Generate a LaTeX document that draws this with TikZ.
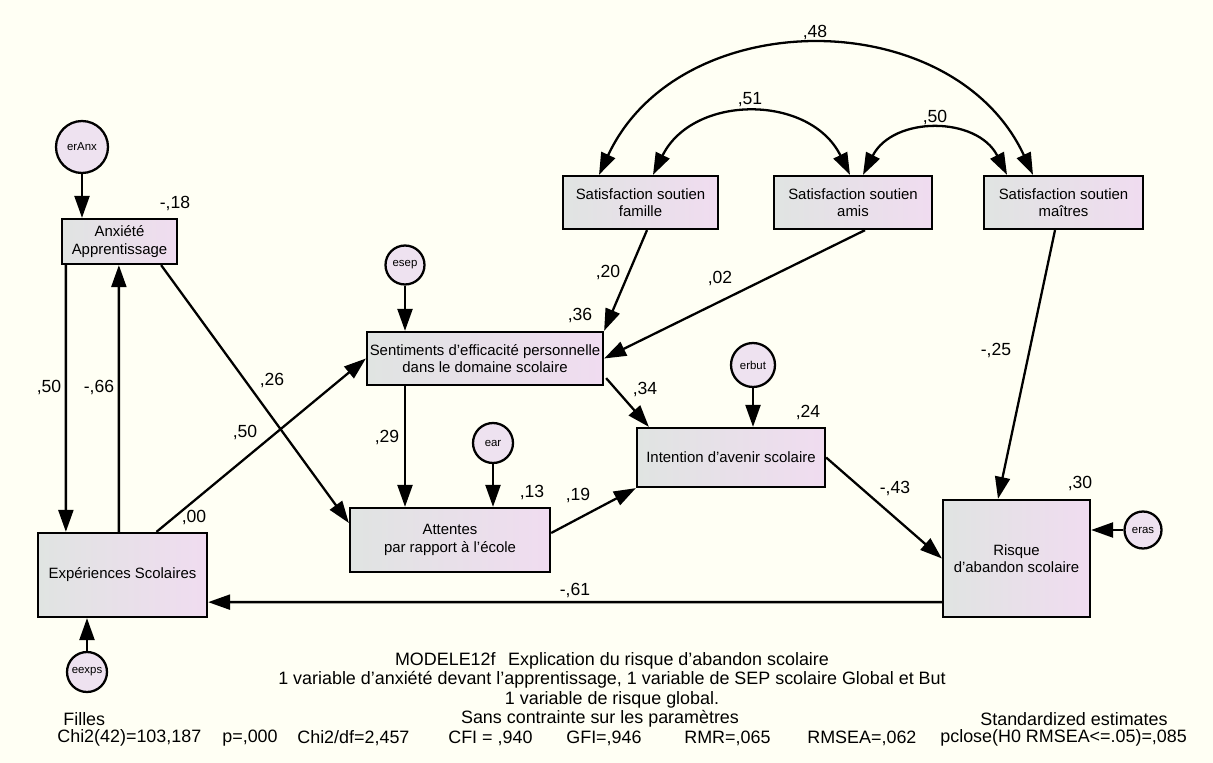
\documentclass[tikz,border=0pt]{standalone}
\usepackage{fontspec}
\setmainfont{Liberation Sans}
\usetikzlibrary{arrows.meta,calc}
\definecolor{paper}{RGB}{255,255,244}
\definecolor{boxGray}{RGB}{224,228,226}
\definecolor{boxPink}{RGB}{240,220,240}
\definecolor{errFill}{RGB}{238,226,240}
\newcommand{\boxFont}{\fontsize{8.5}{10}\selectfont}
\newcommand{\coefFont}{\fontsize{10}{12}\selectfont}
\newcommand{\noteFont}{\fontsize{10.2}{12}\selectfont}

\begin{document}
\begin{tikzpicture}[x=0.02cm, y=-0.02cm]
  \tikzset{
    obs/.style={draw, line width=1.3pt, left color=boxGray, right color=boxPink,
      align=center, inner sep=1pt, font=\boxFont},
    err/.style={draw, circle, line width=1.3pt, fill=errFill, inner sep=0pt,
      font=\fontsize{6.5}{7}\selectfont},
    coef/.style={font=\coefFont, inner sep=1pt},
    reg/.style={line width=1.3pt, -{Triangle[length=0.44cm, width=0.30cm]}},
    cov/.style={line width=1.3pt,
      {Triangle[length=0.44cm, width=0.30cm]}-{Triangle[length=0.44cm, width=0.30cm]}},
    note/.style={font=\noteFont, inner sep=0pt}
  }
  \fill[paper] (0,0) rectangle (1213,763);
  \useasboundingbox (0,0) rectangle (1213,763);

  % variables
  \node[obs, minimum width=2.30cm, minimum height=0.90cm] (anx) at (119.5,241.5) {Anxiété\\Apprentissage};
  \node[obs, minimum width=3.38cm, minimum height=1.68cm] (exp) at (122.5,575) {Expériences Scolaires};
  \node[obs, minimum width=4.72cm, minimum height=1.06cm, inner xsep=0pt] (sep) at (485,358.5) {Sentiments d'efficacité personnelle\\dans le domaine scolaire};
  \node[obs, minimum width=4.00cm, minimum height=1.28cm] (att) at (450,540) {Attentes\\par rapport à l'école};
  \node[obs, minimum width=3.76cm, minimum height=1.18cm] (int) at (731,457.5) {Intention d'avenir scolaire};
  \node[obs, minimum width=2.94cm, minimum height=2.34cm] (ris) at (1016.5,558.5) {Risque\\d'abandon scolaire};
  \node[obs, minimum width=3.10cm, minimum height=1.06cm] (fam) at (640.5,202.5) {Satisfaction soutien\\famille};
  \node[obs, minimum width=3.16cm, minimum height=1.06cm] (ami) at (853,202.5) {Satisfaction soutien\\amis};
  \node[obs, minimum width=3.18cm, minimum height=1.06cm] (mai) at (1063.5,202.5) {Satisfaction soutien\\maîtres};

  % erreurs
  \node[err, minimum size=1.04cm] (eranx) at (82,147) {erAnx};
  \node[err, minimum size=0.78cm] (esep) at (405,265) {\makebox[0pt]{esep}};
  \node[err, minimum size=0.80cm] (ear) at (493,443) {ear};
  \node[err, minimum size=0.88cm] (erbut) at (753,365) {erbut};
  \node[err, minimum size=0.74cm] (eras) at (1143,530) {\makebox[0pt]{eras}};
  \node[err, minimum size=0.80cm] (eexps) at (87,672) {\makebox[0pt]{eexps}};

  \draw[reg] (eranx) -- (eranx |- anx.north);
  \draw[reg] (esep) -- (esep |- sep.north);
  \draw[reg] (ear) -- (ear |- att.north);
  \draw[reg] (erbut) -- (erbut |- int.north);
  \draw[reg] (eras) -- (eras -| ris.east);
  \draw[reg] (eexps) -- (eexps |- exp.south);

  % effets
  \draw[reg] ($(anx.south west)+(5,0)$) -- ($(exp.north west)+(29,0)$);
  \draw[reg] ($(exp.north west)+(82,0)$) -- ($(anx.south west)+(58,0)$);
  \draw[reg] ($(anx.south east)+(-17,0)$) -- ($(att.west)+(0,-17)$);
  \draw[reg] ($(exp.north)+(34,0)$) -- (sep.west);
  \draw[reg] (esep |- sep.south) -- (esep |- att.north);
  \draw[reg] ($(fam.south)+(6.5,0)$) -- (sep.north east);
  \draw[reg] ($(ami.south)+(12,0)$) -- (sep.east);
  \draw[reg] ($(sep.south east)+(2,-8)$) -- ($(int.north west)+(13,0)$);
  \draw[reg] ($(att.east)+(0,-7)$) -- (int.south west);
  \draw[reg] (int.east) -- (ris.west);
  \draw[reg] ($(mai.south)+(-8.5,0)$) -- ($(ris.north)+(-18.5,0)$);
  \draw[reg] ($(ris.south west)+(0,-16)$) -- ($(exp.south east)+(0,-16)$);

  % covariances
  \draw[cov] ($(fam.north)+(-41.5,0)$) .. controls +(80,-172) and +(-80,-172) .. ($(mai.north)+(-30.5,0)$);
  \draw[cov] ($(fam.north)+(12.5,0)$) .. controls +(40,-81) and +(-40,-81) .. ($(ami.north)+(-3,0)$);
  \draw[cov] ($(ami.north)+(10,0)$) .. controls +(30,-59) and +(-30,-59) .. ($(mai.north)+(-56.5,0)$);

  % coefficients
  \node[coef] (r2-anx) at (175,203) {-,18};
  \node[coef] (r2-sep) at (580,315) {,36};
  \node[coef] (r2-int) at (808,412) {,24};
  \node[coef] (r2-att) at (532,492) {,13};
  \node[coef] (r2-ris) at (1080,483) {,30};
  \node[coef] (r2-exp) at (194,517) {,00};
  \node[coef] (b-anx-exp) at (49,387) {,50};
  \node[coef] (b-exp-anx) at (99,387) {-,66};
  \node[coef] (b-anx-att) at (272,380) {,26};
  \node[coef] (b-exp-sep) at (245,432) {,50};
  \node[coef] (b-sep-att) at (387,437) {,29};
  \node[coef] (b-fam-sep) at (608,272) {,20};
  \node[coef] (b-ami-sep) at (720,278) {,02};
  \node[coef] (b-sep-int) at (645,389) {,34};
  \node[coef] (b-att-int) at (578,495) {,19};
  \node[coef] (b-int-ris) at (895,488) {-,43};
  \node[coef] (b-mai-ris) at (996,350) {-,25};
  \node[coef] (b-ris-exp) at (575,590) {-,61};
  \node[coef] (c-fam-mai) at (815,32) {,48};
  \node[coef] (c-fam-ami) at (750,100) {,51};
  \node[coef] (c-ami-mai) at (935,117) {,50};

  % texte du modele
  \node[note] (title) at (612,661) {MODELE12f\hspace{0.7em}Explication du risque d'abandon scolaire};
  \node[note] (desc-1) at (612,680) {1 variable d'anxiété devant l'apprentissage, 1 variable de SEP scolaire Global et But};
  \node[note] (desc-2) at (612,700) {1 variable de risque global.};
  \node[note, anchor=west] (group) at (63,719) {Filles};
  \node[note] (constr) at (600,719) {Sans contrainte sur les paramètres};
  \node[note, anchor=west] (estim) at (980,719) {Standardized estimates};
  \node[note, anchor=west] (fit-chi) at (57,738) {Chi2(42)=103,187};
  \node[note, anchor=west] (fit-p) at (222,738) {p=,000};
  \node[note, anchor=west] (fit-df) at (297,738) {Chi2/df=2,457};
  \node[note, anchor=west] (fit-cfi) at (448,738) {CFI = ,940};
  \node[note, anchor=west] (fit-gfi) at (566,738) {GFI=,946};
  \node[note, anchor=west] (fit-rmr) at (684,738) {RMR=,065};
  \node[note, anchor=west] (fit-rmsea) at (807,738) {RMSEA=,062};
  \node[note, anchor=west] (fit-pclose) at (940,738) {pclose(H0 RMSEA<=.05)=,085};
\end{tikzpicture}
\end{document}
